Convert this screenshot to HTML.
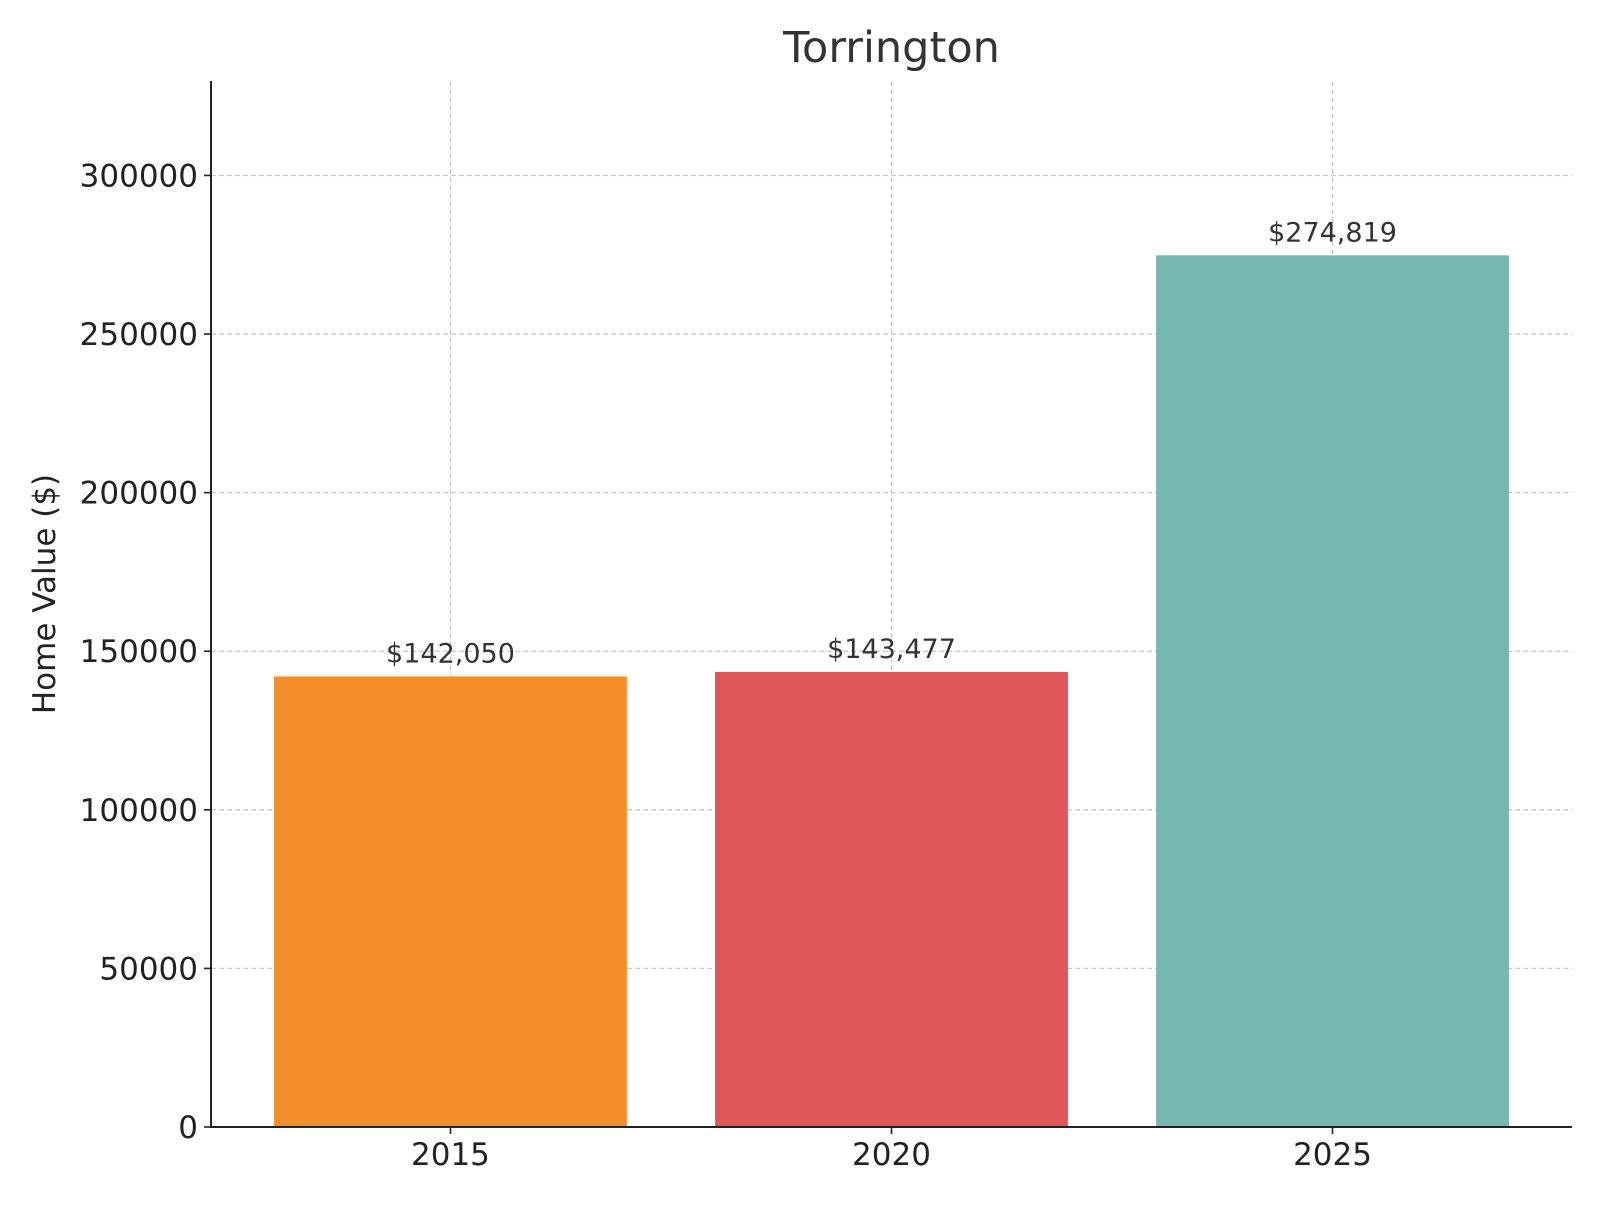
<!DOCTYPE html>
<html><head><meta charset="utf-8"><style>
body{margin:0;background:#fff;}
svg text{font-family:"DejaVu Sans","Liberation Sans",sans-serif;}
</style></head><body>
<svg id="chart" width="1600" height="1200" xmlns="http://www.w3.org/2000/svg"></svg>
<script>
const categories = ["2015", "2020", "2025"];
const values = [142050, 143477, 274819];
const valueLabels = ["$142,050", "$143,477", "$274,819"];
const yTicks = [0, 50000, 100000, 150000, 200000, 250000, 300000];
const colors = ["#F28E2B", "#E15759", "#76B7B2"];

const NS = "http://www.w3.org/2000/svg";
const svg = document.getElementById("chart");
const L = 211, R = 1572, T = 81, B = 1127;
const xmin = -0.543, xmax = 2.543;
const ymax = Math.max(...values) * 1.2;
const xs = v => L + (v - xmin) / (xmax - xmin) * (R - L);
const ys = v => B - v / ymax * (B - T);
function mk(tag, attrs, parent) {
  const e = document.createElementNS(NS, tag);
  for (const k in attrs) e.setAttribute(k, attrs[k]);
  (parent || svg).appendChild(e);
  return e;
}
// grid
const grid = mk("g", {});


yTicks.forEach(t => {
  const l = mk("line", {x1: L, x2: R, y1: ys(t), y2: ys(t), stroke: "#c8c8c8", "stroke-width": 1.3, "stroke-dasharray": "5,3"}, grid);
  
  
});
categories.forEach((c, i) => {
  const l = mk("line", {x1: xs(i), x2: xs(i), y1: T, y2: B, stroke: "#c8c8c8", "stroke-width": 1.3, "stroke-dasharray": "5,3"}, grid);
  
  
});
// bars
categories.forEach((c, i) => {
  const x0 = xs(i - 0.4), x1 = xs(i + 0.4);
  const r = mk("rect", {x: x0, y: ys(values[i]), width: x1 - x0, height: B - ys(values[i]), fill: colors[i]});
  
  
  const t = mk("text", {x: xs(i), y: ys(values[i]) - 14, "text-anchor": "middle", "font-size": 27, fill: "#333"});
  t.textContent = valueLabels[i];
  
  
  const tk = mk("line", {x1: xs(i), x2: xs(i), y1: B, y2: B + 7, stroke: "#222", "stroke-width": 1.6});
  
  
  const tl = mk("text", {x: xs(i), y: B + 38, "text-anchor": "middle", "font-size": 31, fill: "#222"});
  tl.textContent = c;
  
  
});
yTicks.forEach(t => {
  const tk = mk("line", {x1: L - 7, x2: L, y1: ys(t), y2: ys(t), stroke: "#222", "stroke-width": 1.6});
  
  
  const tl = mk("text", {x: L - 13, y: ys(t) + 11, "text-anchor": "end", "font-size": 31, fill: "#222"});
  tl.textContent = String(t);
  
  
});
// axes
const ax = mk("path", {d: `M${L},${T} L${L},${B} L${R},${B}`, fill: "none", stroke: "#222", "stroke-width": 2});


const title = mk("text", {x: (L + R) / 2, y: 62, "text-anchor": "middle", "font-size": 43, fill: "#333"});
title.textContent = "Torrington";


const yl = mk("text", {x: 0, y: 0, "text-anchor": "middle", "font-size": 31, fill: "#222", transform: `translate(55,${(T + B) / 2 - 10}) rotate(-90)`});
yl.textContent = "Home Value ($)";


</script>
</body></html>
